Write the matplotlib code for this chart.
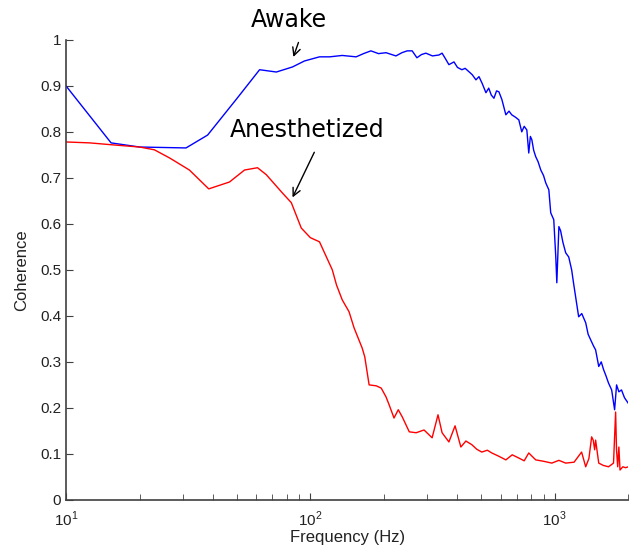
import matplotlib
matplotlib.use('Agg')
import matplotlib.pyplot as plt
from matplotlib.ticker import FixedLocator, LogLocator, NullFormatter

plt.rcParams['font.family'] = ['Liberation Sans', 'DejaVu Sans']
plt.rcParams['mathtext.fontset'] = 'custom'
plt.rcParams['mathtext.rm'] = 'Liberation Sans'

# awake coherence (blue)
awake_freq = [10, 15.3, 20, 31, 38, 50, 62, 72.6, 84.5, 94.6, 109, 120, 135, 154, 165,
              177, 190, 204, 224, 237, 249, 261, 273, 285, 297, 316, 336, 346, 358,
              369, 387, 400, 417, 430, 445, 460, 476, 490, 505, 523, 537, 550, 564,
              578, 591, 608, 631, 650, 667, 690, 713, 733, 750, 769, 783, 795, 806,
              820, 836, 855, 877, 900, 919, 946, 963, 991, 1010, 1020, 1040, 1057,
              1080, 1109, 1141, 1173, 1195, 1218, 1253, 1290, 1339, 1370, 1403,
              1440, 1470, 1514, 1550, 1585, 1620, 1660, 1710, 1758, 1791, 1830,
              1876, 1930, 2000]
awake_coh = [0.900, 0.776, 0.767, 0.765, 0.793, 0.872, 0.935, 0.930, 0.941, 0.954,
             0.963, 0.963, 0.966, 0.963, 0.970, 0.976, 0.970, 0.972, 0.965, 0.972,
             0.976, 0.976, 0.961, 0.968, 0.971, 0.965, 0.967, 0.971, 0.958, 0.946,
             0.952, 0.940, 0.935, 0.938, 0.931, 0.924, 0.913, 0.920, 0.905, 0.885,
             0.895, 0.880, 0.873, 0.889, 0.887, 0.870, 0.837, 0.845, 0.837, 0.832,
             0.826, 0.800, 0.812, 0.804, 0.754, 0.790, 0.783, 0.760, 0.746, 0.735,
             0.717, 0.705, 0.689, 0.674, 0.624, 0.609, 0.528, 0.472, 0.594, 0.585,
             0.560, 0.537, 0.528, 0.500, 0.470, 0.441, 0.398, 0.405, 0.385, 0.360,
             0.348, 0.335, 0.326, 0.290, 0.300, 0.283, 0.270, 0.254, 0.239, 0.196,
             0.250, 0.235, 0.239, 0.222, 0.210]

# anesthetized coherence (red)
anest_freq = [10, 12.5, 15.3, 20, 23, 26.6, 32, 38.4, 46.7, 53.8, 60.8, 66, 76.9,
              83.6, 91.8, 100, 109, 123, 128, 135, 144, 151, 163, 167, 174, 186,
              195, 204, 210, 220, 229, 238, 254, 271, 292, 315, 333, 346, 369, 391,
              413, 433, 458, 480, 503, 530, 553, 590, 631, 670, 713, 750, 783, 836,
              900, 973, 1040, 1109, 1200, 1288, 1339, 1380, 1416, 1437, 1457, 1470,
              1514, 1580, 1660, 1740, 1775, 1790, 1810, 1830, 1850, 1900, 1950, 2000]
anest_coh = [0.778, 0.776, 0.772, 0.767, 0.761, 0.743, 0.717, 0.676, 0.691, 0.717,
             0.722, 0.707, 0.667, 0.646, 0.591, 0.570, 0.561, 0.500, 0.467, 0.435,
             0.409, 0.374, 0.330, 0.311, 0.250, 0.248, 0.243, 0.224, 0.207, 0.178,
             0.196, 0.180, 0.148, 0.146, 0.152, 0.135, 0.185, 0.146, 0.126, 0.161,
             0.115, 0.128, 0.120, 0.110, 0.104, 0.108, 0.102, 0.095, 0.087, 0.098,
             0.091, 0.085, 0.102, 0.087, 0.084, 0.080, 0.086, 0.080, 0.082, 0.104,
             0.072, 0.090, 0.137, 0.130, 0.109, 0.130, 0.080, 0.075, 0.072, 0.080,
             0.191, 0.109, 0.072, 0.115, 0.065, 0.072, 0.070, 0.072]

yticks = [0, 0.1, 0.2, 0.3, 0.4, 0.5, 0.6, 0.7, 0.8, 0.9, 1]
ytick_labels = ['0', '0.1', '0.2', '0.3', '0.4', '0.5', '0.6', '0.7', '0.8', '0.9', '1']
xticks = [10, 100, 1000]
xtick_labels = ['$10^{1}$', '$10^{2}$', '$10^{3}$']

fig = plt.figure(figsize=(6.34, 5.53), dpi=100)
ax = fig.add_axes([0.104, 0.096, 0.887, 0.832])

ax.plot(awake_freq, awake_coh, color='#0000ff', lw=1.0)
ax.plot(anest_freq, anest_coh, color='#ff0000', lw=1.0)

ax.set_xscale('log')
ax.set_xlim(10, 2000)
ax.set_ylim(0, 1)
ax.xaxis.set_major_locator(FixedLocator(xticks))
ax.set_xticklabels(xtick_labels)
ax.xaxis.set_minor_locator(LogLocator(base=10, subs=range(2, 10)))
ax.xaxis.set_minor_formatter(NullFormatter())
ax.set_yticks(yticks)
ax.set_yticklabels(ytick_labels)

for s in ['top', 'right']:
    ax.spines[s].set_visible(False)
for s in ['left', 'bottom']:
    ax.spines[s].set_color('#404040')
    ax.spines[s].set_linewidth(1.2)
ax.tick_params(which='both', direction='in', colors='#404040', labelcolor='#222222',
               labelsize=11)
ax.tick_params(which='major', length=5)
ax.tick_params(which='minor', length=4)
ax.tick_params(axis='x', pad=7)

ax.set_xlabel('Frequency (Hz)', fontsize=12, color='#222222', labelpad=1)
ax.set_ylabel('Coherence', fontsize=12, color='#222222', labelpad=8)

# annotations
ax.text(82, 1.043, 'Awake', fontsize=17, family='DejaVu Sans', ha='center', va='center')
ax.annotate('', xy=(84.5, 0.957), xytext=(90.2, 1.0),
            arrowprops=dict(arrowstyle='->', color='black', lw=1.0, mutation_scale=14),
            annotation_clip=False)
ax.text(97.3, 0.804, 'Anesthetized', fontsize=17, family='DejaVu Sans',
        ha='center', va='center')
ax.annotate('', xy=(83.6, 0.652), xytext=(105, 0.761),
            arrowprops=dict(arrowstyle='->', color='black', lw=1.0, mutation_scale=14))

fig.savefig('out.png', dpi=100)
